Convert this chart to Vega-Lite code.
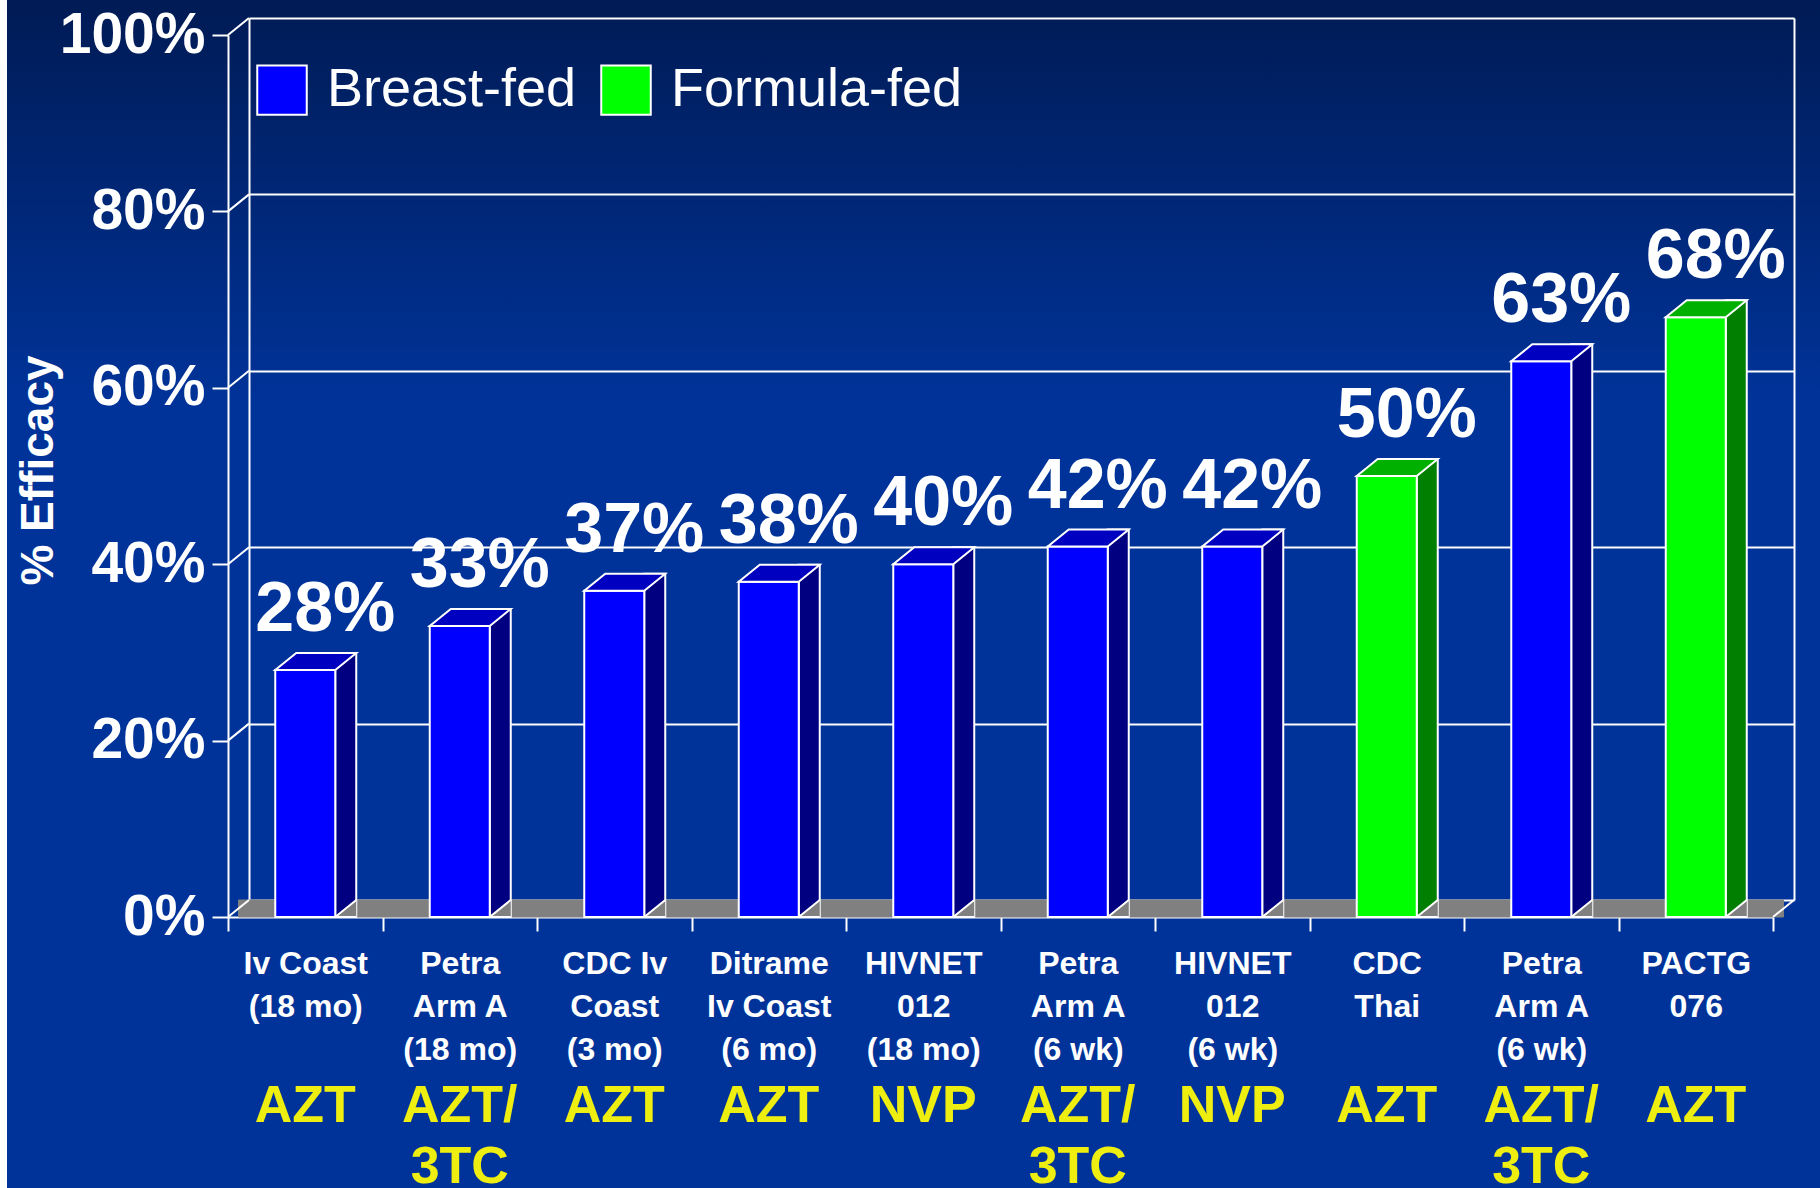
{
  "$schema": "https://vega.github.io/schema/vega-lite/v6.json",
  "width": 1813,
  "height": 1188,
  "autosize": {"type": "none"},
  "padding": {"left": 7, "top": 0, "right": 0, "bottom": 0},
  "background": "#ffffff",
  "config": {
    "font": "Liberation Sans",
    "view": {
      "stroke": null,
      "fill": {
        "gradient": "linear", "x1": 0, "y1": 0, "x2": 0, "y2": 1,
        "stops": [
          {"offset": 0, "color": "#001b55"},
          {"offset": 0.34, "color": "#003399"},
          {"offset": 1, "color": "#003399"}
        ]
      }
    }
  },
  "datasets": {
    "studies": [
      {"key": "01#Iv Coast|(18 mo)#AZT", "feeding": "Breast-fed", "efficacy": 0.28},
      {"key": "02#Petra|Arm A|(18 mo)#AZT/|3TC", "feeding": "Breast-fed", "efficacy": 0.33},
      {"key": "03#CDC Iv|Coast|(3 mo)#AZT", "feeding": "Breast-fed", "efficacy": 0.37},
      {"key": "04#Ditrame|Iv Coast|(6 mo)#AZT", "feeding": "Breast-fed", "efficacy": 0.38},
      {"key": "05#HIVNET|012|(18 mo)#NVP", "feeding": "Breast-fed", "efficacy": 0.40},
      {"key": "06#Petra|Arm A|(6 wk)#AZT/|3TC", "feeding": "Breast-fed", "efficacy": 0.42},
      {"key": "07#HIVNET|012|(6 wk)#NVP", "feeding": "Breast-fed", "efficacy": 0.42},
      {"key": "08#CDC|Thai#AZT", "feeding": "Formula-fed", "efficacy": 0.50},
      {"key": "09#Petra|Arm A|(6 wk)#AZT/|3TC", "feeding": "Breast-fed", "efficacy": 0.63},
      {"key": "10#PACTG|076#AZT", "feeding": "Formula-fed", "efficacy": 0.68}
    ],
    "tickvals": [{"t": 0}, {"t": 0.2}, {"t": 0.4}, {"t": 0.6}, {"t": 0.8}, {"t": 1}]
  },
  "data": {"name": "studies"},
  "resolve": {"scale": {"x": "independent", "y": "independent"}},
  "layer": [
    {
      "mark": {"type": "point", "opacity": 0},
      "encoding": {
        "x": {"field": "key", "type": "nominal", "scale": {"type": "band", "range": [242, 1787], "paddingInner": 0, "paddingOuter": 0}, "axis": null},
        "y": {"field": "efficacy", "type": "quantitative", "scale": {"domain": [0, 1], "range": [900, 18], "nice": false},
          "axis": {"orient": "left", "offset": -242, "values": [0, 0.2, 0.4, 0.6, 0.8, 1], "grid": true, "gridColor": "#ffffff", "gridWidth": 2, "gridOpacity": 1, "labels": false, "ticks": false, "domain": true, "domainColor": "#ffffff", "domainWidth": 2, "title": null}}
      }
    },
    {
      "mark": {"type": "point", "opacity": 0},
      "encoding": {
        "x": {"field": "key", "type": "nominal", "scale": {"type": "band", "range": [242, 1787], "paddingInner": 0, "paddingOuter": 0}, "axis": null},
        "y": {"field": "efficacy", "type": "quantitative", "scale": {"domain": [0, 1], "range": [900, 18], "nice": false},
          "axis": {"orient": "right", "offset": -26, "values": [0, 1], "grid": false, "labels": false, "ticks": false, "domain": true, "domainColor": "#ffffff", "domainWidth": 2, "title": null}}
      }
    },
    {
      "mark": {"type": "point", "opacity": 0},
      "encoding": {
        "x": {"field": "key", "type": "nominal", "scale": {"type": "band", "range": [221, 1766], "paddingInner": 0, "paddingOuter": 0}, "axis": null},
        "y": {"field": "efficacy", "type": "quantitative", "scale": {"domain": [0, 1], "range": [917, 35], "nice": false},
          "axis": {"orient": "left", "offset": -221, "values": [0, 0.2, 0.4, 0.6, 0.8, 1], "format": ".0%",
            "title": "% Efficacy", "titleFontSize": 46, "titleFontWeight": "bold", "titleColor": "#ffffff",
            "titleAngle": -90, "titleX": -176, "titleY": 470, "titleAlign": "center", "titleBaseline": "alphabetic",
            "labelFontSize": 57, "labelFontWeight": "bold", "labelColor": "#ffffff", "labelPadding": 7,
            "domain": true, "domainColor": "#ffffff", "domainWidth": 2, "ticks": true, "tickColor": "#ffffff", "tickWidth": 2, "tickSize": 16,
            "grid": false, "labelOverlap": false, "labelBound": false, "labelFlush": false}}
      }
    },
    {
      "resolve": {"axis": {"x": "independent"}},
      "layer": [
        {
          "mark": {"type": "bar", "fill": "#808080", "stroke": "#808080", "strokeWidth": 1, "xOffset": 10.5, "yOffset": -17, "width": {"band": 1}},
          "encoding": {
            "x": {"field": "key", "type": "nominal", "scale": {"type": "band", "range": [221, 1766], "paddingInner": 0, "paddingOuter": 0}, "axis": null},
            "y": {"datum": 0, "type": "quantitative", "scale": {"domain": [0, 1], "range": [917, 35], "nice": false}, "axis": null},
            "y2": {"datum": 0}
          }
        },
        {
          "data": {"name": "tickvals"},
          "mark": {"type": "point", "shape": "M0,0L21,-17", "size": 4, "filled": false, "stroke": "#ffffff", "strokeWidth": 2, "opacity": 1},
          "encoding": {
            "x": {"datum": "01#Iv Coast|(18 mo)#AZT", "type": "nominal", "bandPosition": 0, "axis": null},
            "y": {"field": "t", "type": "quantitative", "axis": null}
          }
        },
        {
          "data": {"values": [{"t": 0}]},
          "mark": {"type": "point", "shape": "M0,0L21,-17", "size": 4, "filled": false, "stroke": "#ffffff", "strokeWidth": 2, "opacity": 1},
          "encoding": {
            "x": {"datum": "10#PACTG|076#AZT", "type": "nominal", "bandPosition": 1, "axis": null},
            "y": {"field": "t", "type": "quantitative", "axis": null}
          }
        },
        {
          "mark": {"type": "bar", "width": 21, "xOffset": 40.5, "yOffset": -17, "stroke": "#ffffff", "strokeWidth": 2},
          "encoding": {
            "x": {"field": "key", "type": "nominal", "axis": null},
            "y": {"field": "efficacy", "type": "quantitative", "axis": null},
            "y2": {"datum": 0},
            "fill": {"condition": {"test": "datum.feeding === 'Formula-fed'", "value": "#007f00"}, "value": "#000080"}
          }
        },
        {
          "mark": {"type": "point", "shape": "M51,0L30,0L51,-17", "size": 4, "filled": true, "fill": "#808080", "stroke": "#ffffff", "strokeWidth": 2, "opacity": 1},
          "encoding": {
            "x": {"field": "key", "type": "nominal", "axis": null},
            "y": {"datum": 0, "type": "quantitative", "axis": null}
          }
        },
        {
          "mark": {"type": "bar", "width": 60, "stroke": "#ffffff", "strokeWidth": 2},
          "encoding": {
            "x": {"field": "key", "type": "nominal",
              "axis": {"orient": "bottom", "offset": -271, "title": null,
                "labelExpr": "datum.value ? split(split(datum.value, '#')[1], '|') : ''",
                "labelAngle": 0, "labelFontSize": 32, "labelFontWeight": "bold", "labelColor": "#ffffff",
                "labelLineHeight": 43, "labelPadding": 17, "labelLimit": 0, "labelOverlap": false, "labelBound": false,
                "domain": true, "domainColor": "#ffffff", "domainWidth": 2,
                "ticks": true, "tickColor": "#ffffff", "tickWidth": 2, "tickSize": 14, "tickBand": "extent", "grid": false}},
            "y": {"field": "efficacy", "type": "quantitative", "axis": null},
            "y2": {"datum": 0},
            "fill": {"field": "feeding", "type": "nominal",
              "scale": {"domain": ["Breast-fed", "Formula-fed"], "range": ["#0000ff", "#00ff00"]},
              "legend": {"orient": "none", "legendX": 248, "legendY": 63, "direction": "horizontal", "title": null,
                "symbolType": "square", "symbolSize": 2450, "symbolStrokeColor": "#ffffff", "symbolStrokeWidth": 2, "symbolOpacity": 1,
                "labelFontSize": 54, "labelColor": "#ffffff", "labelFont": "Liberation Sans", "labelOffset": 18, "columnPadding": 20,
                "padding": 0, "labelLimit": 0}}
          }
        },
        {
          "mark": {"type": "point", "shape": "M-30,0L30,0L51,-17L-9,-17Z", "size": 4, "filled": true, "stroke": "#ffffff", "strokeWidth": 2, "opacity": 1},
          "encoding": {
            "x": {"field": "key", "type": "nominal", "axis": null},
            "y": {"field": "efficacy", "type": "quantitative", "axis": null},
            "fill": {"condition": {"test": "datum.feeding === 'Formula-fed'", "value": "#00b000"}, "value": "#0000c0"}
          }
        },
        {
          "mark": {"type": "text", "fontSize": 70, "fontWeight": "bold", "fill": "#ffffff", "dx": 20, "dy": -39, "baseline": "alphabetic", "align": "center"},
          "encoding": {
            "x": {"field": "key", "type": "nominal",
              "axis": {"orient": "bottom", "offset": -271, "title": null,
                "labelExpr": "datum.value ? split(split(datum.value, '#')[2], '|') : ''",
                "labelAngle": 0, "labelFontSize": 52, "labelFontWeight": "bold", "labelColor": "#eeee10",
                "labelLineHeight": 61, "labelPadding": 163, "labelLimit": 0, "labelOverlap": false, "labelBound": false,
                "domain": false, "ticks": false, "grid": false}},
            "y": {"field": "efficacy", "type": "quantitative", "axis": null},
            "text": {"field": "efficacy", "type": "quantitative", "format": ".0%"}
          }
        }
      ]
    }
  ]
}
